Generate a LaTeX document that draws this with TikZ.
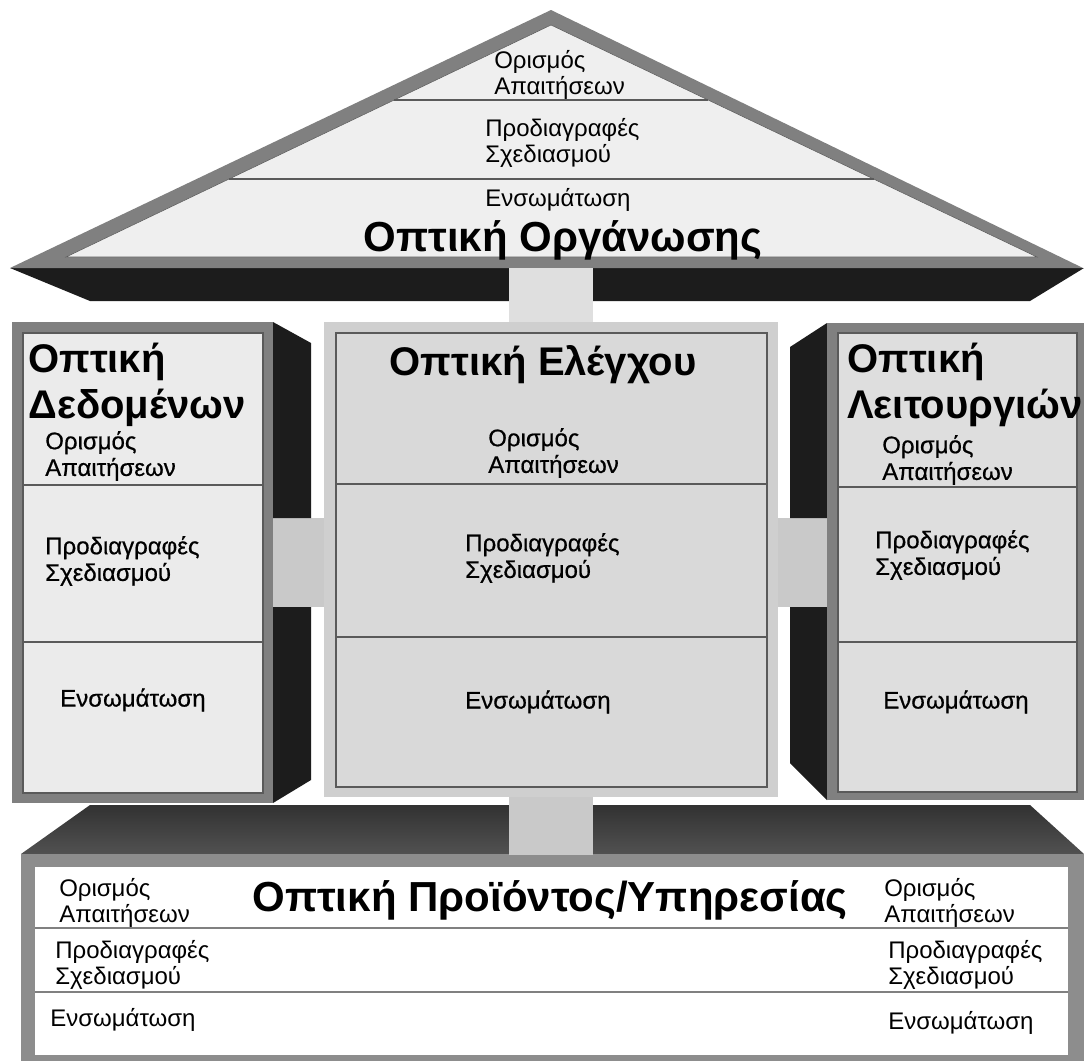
\documentclass[tikz,border=0pt]{standalone}
\usepackage{fontspec}
\setmainfont{Liberation Sans}
\newfontfamily\heavyfont[FakeBold=0.6]{Liberation Sans}
\usetikzlibrary{calc}

\definecolor{framegray}{HTML}{808080}
\definecolor{roofwhite}{HTML}{EFEFEF}
\definecolor{linegray}{HTML}{5A5A5A}
\definecolor{bargray}{HTML}{C9C9C9}
\definecolor{darkface}{HTML}{1C1C1C}
\definecolor{basetop}{HTML}{3E3E3E}
\definecolor{pillarA}{HTML}{EBEBEB}
\definecolor{pillarB}{HTML}{D9D9D9}
\definecolor{pillarC}{HTML}{DEDEDE}
\definecolor{midframe}{HTML}{CFCFCF}

\begin{document}
\begin{tikzpicture}[x=0.75pt,y=-0.75pt,
    lbl/.style={anchor=west,inner sep=0pt,align=left,font=\fontsize{18}{20}\selectfont},
    plbl/.style={lbl,font=\fontsize{18}{20}\heavyfont},
    ttl/.style={inner sep=0pt,align=left,font=\fontsize{31.5}{34.5}\selectfont\bfseries},
    pttl/.style={ttl,anchor=west,font=\fontsize{30}{34.5}\selectfont\bfseries},
    bar/.style={fill=bargray},
    sep/.style={draw=linegray,line width=1.2pt},
    box/.style={fill=#1,draw=linegray,line width=0.8pt}]

  \useasboundingbox[fill=white] (0,0) rectangle (1084,1061);

  %% roof
  \fill[darkface] (10,268) -- (1084,268) -- (1030,301) -- (90,301) -- cycle;
  \fill[framegray] (551,10) -- (1083,268) -- (10,268) -- cycle;
  \coordinate (apex) at (551,25);
  \coordinate (rl) at (66,257);
  \coordinate (rr) at (1037,257);
  \filldraw[fill=roofwhite,draw=linegray] (apex) -- (rr) -- (rl) -- cycle;
  \draw[sep] ($(rl)!0.677!(apex)$) -- ($(rr)!0.677!(apex)$);
  \draw[sep] ($(rl)!0.336!(apex)$) -- ($(rr)!0.336!(apex)$);

  \node[lbl] (r1) at (494,75) {Ορισμός\\Απαιτήσεων};
  \node[lbl] (r2) at (485,143) {Προδιαγραφές\\Σχεδιασμού};
  \node[lbl] (r3) at (485,200) {Ενσωμάτωση};
  \node[ttl] (org) at (563,240) {Οπτική Οργάνωσης};

  %% base
  \shade[top color=basetop!80!black,bottom color=basetop!90!white]
    (90,805) -- (1030,805) -- (1084,854) -- (21,854) -- cycle;
  \fill[framegray!90] (21,854) rectangle (1084,1061);
  \fill[white] (35,867) rectangle (1068,1055);
  \draw[sep,draw=framegray] (35,928) -- (1068,928);
  \draw[sep,draw=framegray] (35,992) -- (1068,992);

  \node[ttl] (prod) at (550,900) {Οπτική Προϊόντος/Υπηρεσίας};
  \node[lbl] (b1) at (59,903) {Ορισμός\\Απαιτήσεων};
  \node[lbl] (b2) at (55,965) {Προδιαγραφές\\Σχεδιασμού};
  \node[lbl] (b3) at (50,1020) {Ενσωμάτωση};
  \node[lbl] (b4) at (884,903) {Ορισμός\\Απαιτήσεων};
  \node[lbl] (b5) at (888,965) {Προδιαγραφές\\Σχεδιασμού};
  \node[lbl] (b6) at (888,1023) {Ενσωμάτωση};

  %% grey bars between the blocks
  \fill[bargray!60!white] (509,268) rectangle (593,323);
  \fill[bar] (509,797) rectangle (593,855);
  \fill[bar] (270,518) rectangle (325,607);
  \fill[bar] (778,518) rectangle (830,607);

  %% left pillar
  \fill[darkface] (273,322) -- (311,343) -- (311,518) -- (273,518) -- cycle;
  \fill[darkface] (273,607) -- (311,607) -- (311,780) -- (273,803) -- cycle;
  \fill[framegray] (12,322) rectangle (273,803);
  \filldraw[box=pillarA] (23,333) rectangle (263,793);
  \draw[sep] (23,485) -- (263,485);
  \draw[sep] (23,642) -- (263,642);

  \node[pttl] (data) at (28,385) {Οπτική\\Δεδομένων};
  \node[plbl] (d1) at (45,456) {Ορισμός\\Απαιτήσεων};
  \node[plbl] (d2) at (45,561) {Προδιαγραφές\\Σχεδιασμού};
  \node[plbl] (d3) at (60,700) {Ενσωμάτωση};

  %% middle pillar
  \fill[midframe] (324,322) rectangle (778,797);
  \filldraw[box=pillarB] (336,333) rectangle (767,787);
  \draw[sep] (336,484) -- (767,484);
  \draw[sep] (336,637) -- (767,637);

  \node[ttl,font=\fontsize{30}{34.5}\selectfont\bfseries] (ctrl) at (543,365) {Οπτική Ελέγχου};
  \node[plbl] (c1) at (488,453) {Ορισμός\\Απαιτήσεων};
  \node[plbl] (c2) at (465,558) {Προδιαγραφές\\Σχεδιασμού};
  \node[plbl] (c3) at (465,702) {Ενσωμάτωση};

  %% right pillar
  \fill[darkface] (827,323) -- (790,347) -- (790,518) -- (827,518) -- cycle;
  \fill[darkface] (827,607) -- (790,607) -- (790,763) -- (827,800) -- cycle;
  \fill[framegray] (827,323) rectangle (1084,800);
  \filldraw[box=pillarC] (838,333) rectangle (1077,792);
  \draw[sep] (838,487) -- (1077,487);
  \draw[sep] (838,642) -- (1077,642);

  \node[pttl] (func) at (847,385) {Οπτική\\Λειτουργιών};
  \node[plbl] (f1) at (882,460) {Ορισμός\\Απαιτήσεων};
  \node[plbl] (f2) at (875,555) {Προδιαγραφές\\Σχεδιασμού};
  \node[plbl] (f3) at (883,702) {Ενσωμάτωση};
\end{tikzpicture}
\end{document}
